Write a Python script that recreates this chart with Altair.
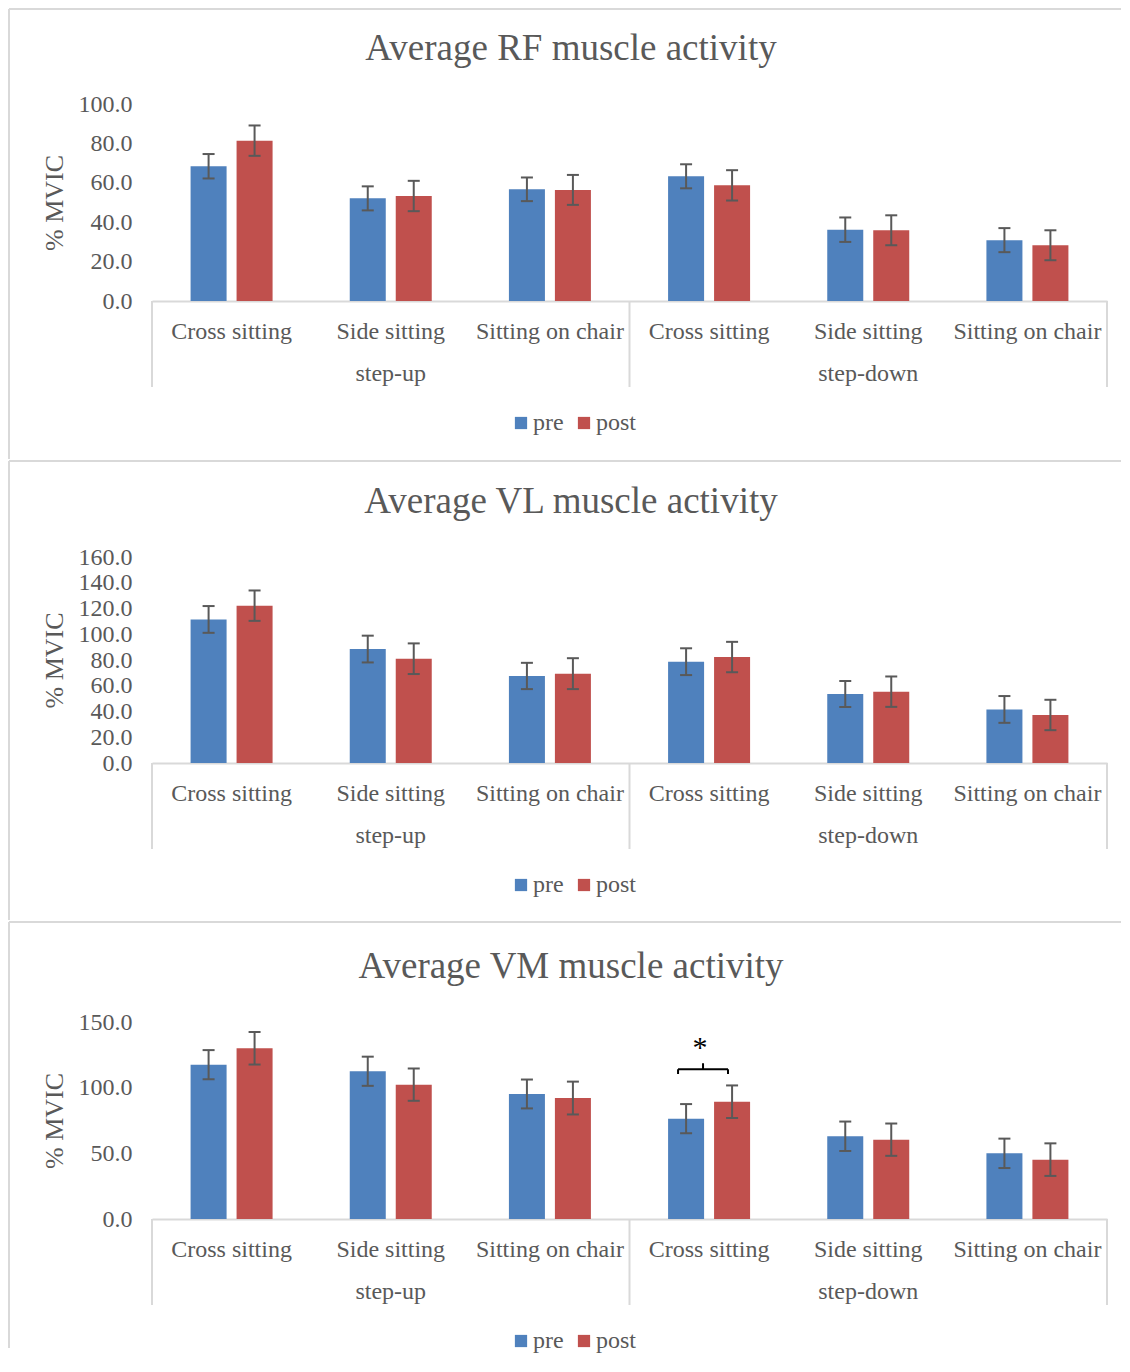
import altair as alt
import pandas as pd

# ---------------- data ----------------
tasks = ["step-up", "step-down"]
postures = ["Cross sitting", "Side sitting", "Sitting on chair"]
phases = ["pre", "post"]

rf_pre = [68.4, 52.1, 56.7, 63.3, 36.2, 30.9]
rf_pre_sd = [6.2, 6.1, 6.0, 6.1, 6.2, 6.1]
rf_post = [81.4, 53.3, 56.4, 58.7, 35.9, 28.3]
rf_post_sd = [7.7, 7.7, 7.6, 7.7, 7.6, 7.6]

vl_pre = [111.5, 88.5, 67.6, 78.7, 53.6, 41.6]
vl_pre_sd = [10.4, 10.4, 10.2, 10.4, 10.1, 10.4]
vl_post = [122.2, 81.0, 69.4, 82.3, 55.4, 37.3]
vl_post_sd = [11.8, 11.9, 12.0, 11.8, 11.8, 11.8]

vm_pre = [117.5, 112.5, 95.2, 76.4, 63.0, 50.0]
vm_pre_sd = [11.1, 11.1, 11.0, 11.1, 11.2, 11.2]
vm_post = [130.0, 102.3, 92.1, 89.3, 60.4, 45.2]
vm_post_sd = [12.4, 12.3, 12.5, 12.4, 12.3, 12.4]

titles = ["Average RF muscle activity", "Average VL muscle activity", "Average VM muscle activity"]
y_ticks_rf = [0, 20, 40, 60, 80, 100]
y_ticks_vl = [0, 20, 40, 60, 80, 100, 120, 140, 160]
y_ticks_vm = [0, 50, 100, 150]

# significance marker (VM, step-down cross sitting)
sig_task = "step-down"
sig_posture = "Cross sitting"
sig_bracket = [114.0]
sig_end = [110.4]
sig_top = [118.6]
sig_star = [130.0]

# ---------------- style ----------------
FONT = "Liberation Serif"
TEXT = "#595959"
LINE = "#d9d9d9"
BLUE = "#4F81BD"
RED = "#C0504D"
ERR = "#595959"
W = 955

keys = [f"{t}|{p}" for t in tasks for p in postures]

x_scale = alt.Scale(domain=keys, paddingInner=0, paddingOuter=0)
x_axis = alt.Axis(
    title=None, labelExpr="split(datum.label, '|')[1]", labelAngle=0,
    labelFont=FONT, labelFontSize=24, labelColor=TEXT, labelPadding=30,
    labelBaseline="middle", labelLimit=0, domainColor=LINE, domainWidth=2,
    ticks=False, tickSize=0, grid=False,
)


def xenc(band=None):
    if band is None:
        return alt.X("key:N", sort=keys, scale=x_scale, axis=x_axis)
    return alt.X("key:N", sort=keys, scale=x_scale, axis=x_axis, bandPosition=band)


xo = alt.XOffset("phase:N", sort=phases,
                 scale=alt.Scale(domain=phases, paddingInner=0.217, paddingOuter=0.839))


def panel(title, pre, pre_sd, post, post_sd, ticks, H, top_rel, bottom_rel, sig=False):
    rows = []
    for i, k in enumerate(keys):
        for ph, v, e in (("pre", pre[i], pre_sd[i]), ("post", post[i], post_sd[i])):
            rows.append(dict(key=k, phase=ph, value=v, lo=v - e, hi=v + e))
    df = pd.DataFrame(rows)

    y_scale = alt.Scale(domain=[0, ticks[-1]], nice=False, zero=True)
    y_axis = alt.Axis(
        values=ticks, format=".1f", title="% MVIC", grid=False, domain=False,
        ticks=False, tickSize=0, labelFont=FONT, labelFontSize=24, labelColor=TEXT,
        labelPadding=20, titleFont=FONT, titleFontSize=26, titleFontWeight="normal",
        titleColor=TEXT, titlePadding=11,
    )

    def yenc(f):
        return alt.Y(f"{f}:Q", scale=y_scale, axis=y_axis)

    color = alt.Color(
        "phase:N", sort=phases, scale=alt.Scale(domain=phases, range=[BLUE, RED]),
        legend=alt.Legend(
            title=None, orient="none", legendX=357, legendY=H + 110,
            direction="horizontal", symbolType="square", symbolSize=150,
            symbolStrokeWidth=0, symbolOpacity=1, labelFont=FONT, labelFontSize=24,
            labelColor=TEXT, labelOffset=0, columnPadding=8, padding=0,
        ),
    )

    base = alt.Chart(df)
    bars = base.mark_bar().encode(x=xenc(), xOffset=xo, y=yenc("value"), color=color)
    err = base.mark_rule(color=ERR, strokeWidth=2).encode(
        x=xenc(), xOffset=xo, y=yenc("lo"), y2="hi:Q")
    cap_lo = base.mark_tick(color=ERR, thickness=2, size=12, opacity=1).encode(
        x=xenc(), xOffset=xo, y=yenc("lo"))
    cap_hi = base.mark_tick(color=ERR, thickness=2, size=12, opacity=1).encode(
        x=xenc(), xOffset=xo, y=yenc("hi"))

    grp = pd.DataFrame({"key": [keys[1], keys[4]], "task": tasks})
    group_lbl = alt.Chart(grp).mark_text(
        font=FONT, fontSize=24, color=TEXT, baseline="middle", align="center"
    ).encode(x=xenc(), y=alt.value(H + 73), text="task:N")

    sep_l = alt.Chart(pd.DataFrame({"key": [keys[0], keys[3]]})).mark_rule(
        color=LINE, strokeWidth=2).encode(x=xenc(0), y=alt.value(H), y2=alt.value(H + 86))
    sep_r = alt.Chart(pd.DataFrame({"key": [keys[5]]})).mark_rule(
        color=LINE, strokeWidth=2).encode(x=xenc(1), y=alt.value(H), y2=alt.value(H + 86))

    one = pd.DataFrame({"t": [title]})
    ttl = alt.Chart(one).mark_text(
        font=FONT, fontSize=37, color=TEXT, baseline="middle", align="center"
    ).encode(x=alt.value(419), y=alt.value(-55), text="t:N")
    top_line = alt.Chart(one).mark_rule(color=LINE, strokeWidth=2).encode(
        x=alt.value(-143), x2=alt.value(969), y=alt.value(top_rel))
    left_line = alt.Chart(one).mark_rule(color=LINE, strokeWidth=2).encode(
        x=alt.value(-143), y=alt.value(top_rel), y2=alt.value(bottom_rel))

    layers = [top_line, left_line, ttl, sep_l, sep_r, bars, err, cap_lo, cap_hi, group_lbl]

    if sig:
        sk = f"{sig_task}|{sig_posture}"
        sdf = pd.DataFrame({"key": [sk], "yb": sig_bracket, "ye": sig_end,
                            "yt": sig_top, "ys": sig_star, "s": ["*"]})
        sb = alt.Chart(sdf)
        hline = sb.mark_rule(color="black", strokeWidth=2).encode(
            x=xenc(0.305), x2=alt.X2("key", bandPosition=0.619), y=yenc("yb"))
        lend = sb.mark_rule(color="black", strokeWidth=2).encode(
            x=xenc(0.305), y=yenc("ye"), y2="yb:Q")
        rend = sb.mark_rule(color="black", strokeWidth=2).encode(
            x=xenc(0.619), y=yenc("ye"), y2="yb:Q")
        mid = sb.mark_rule(color="black", strokeWidth=2).encode(
            x=xenc(0.462), y=yenc("yb"), y2="yt:Q")
        star = sb.mark_text(font=FONT, fontSize=30, color="black", baseline="middle",
                            align="center").encode(x=xenc(0.443), y=yenc("ys"), text="s:N")
        layers += [hline, lend, rend, mid, star]

    return alt.layer(*layers).properties(width=W, height=H)


p1 = panel(titles[0], rf_pre, rf_pre_sd, rf_post, rf_post_sd, y_ticks_rf, 197, -95, 355)
p2 = panel(titles[1], vl_pre, vl_pre_sd, vl_post, vl_post_sd, y_ticks_vl, 206, -96, 363)
p3 = panel(titles[2], vm_pre, vm_pre_sd, vm_post, vm_post_sd, y_ticks_vm, 197, -100, 326, sig=True)

chart = alt.vconcat(p1, p2, p3, spacing=0).resolve_scale(
    color="independent"
).properties(
    padding=0, background="white"
).configure_view(stroke=None)

chart.save("out.html", embed_options={"renderer": "svg", "actions": False})
